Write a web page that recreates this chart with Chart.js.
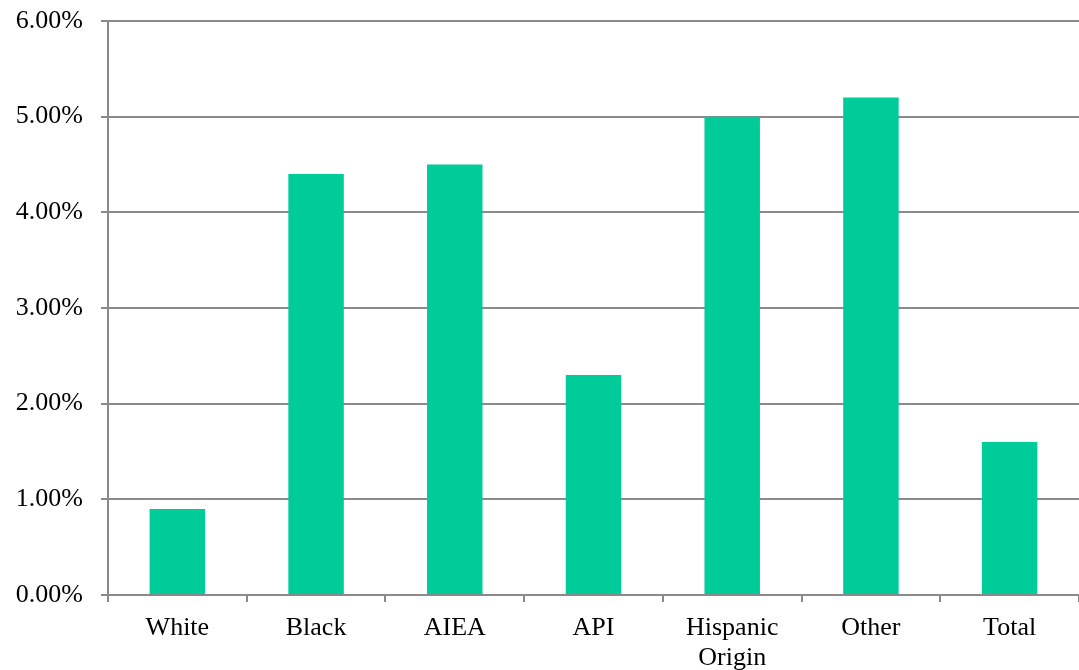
<!DOCTYPE html>
<html lang="en">
<head>
  <meta charset="UTF-8">
  <title>Rate by group</title>
  <script src="https://cdn.jsdelivr.net/npm/chart.js"></script>
  <style>
    body { margin: 0; background: #fff; }
    .wrap { width: 1079px; height: 670px; position: relative; }
  </style>
</head>
<body>
  <div class="wrap"><canvas id="chart"></canvas></div>
  <script>
    const categories = ['White', 'Black', 'AIEA', 'API', ['Hispanic', 'Origin'], 'Other', 'Total'];
    const rates = [0.9, 4.4, 4.5, 2.3, 5.0, 5.2, 1.6];
    const yTicks = [0, 1, 2, 3, 4, 5, 6];

    const gray = '#8a8a8a';
    const font = { family: "'Liberation Serif', 'Times New Roman', serif", size: 26 };

    new Chart(document.getElementById('chart'), {
      type: 'bar',
      data: {
        labels: categories,
        datasets: [{
          data: rates,
          backgroundColor: '#00cc99',
          barPercentage: 0.4,
          categoryPercentage: 1.0
        }]
      },
      options: {
        responsive: true,
        maintainAspectRatio: false,
        animation: false,
        layout: { padding: { top: 21, right: 0, left: 0, bottom: 0 } },
        plugins: { legend: { display: false }, tooltip: { enabled: false } },
        scales: {
          x: {
            grid: { offset: true, drawOnChartArea: false, drawTicks: true, tickLength: 7, color: gray, lineWidth: 2 },
            border: { color: gray, width: 2 },
            ticks: { color: '#000', font: { ...font, lineHeight: 1.15 }, padding: 11, maxRotation: 0 },
            afterFit: s => { s.height = 75; s.paddingLeft = 0; s.paddingRight = 0; }
          },
          y: {
            min: 0,
            max: 6,
            afterBuildTicks: s => { s.ticks = yTicks.map(v => ({ value: v })); },
            grid: { color: gray, lineWidth: 2, tickLength: 7 },
            border: { color: gray, width: 2 },
            ticks: { color: '#000', font: font, padding: 18, callback: v => v.toFixed(2) + '%' },
            afterFit: s => { s.width = 108; s.paddingTop = 0; s.paddingBottom = 0; }
          }
        }
      }
    });
  </script>
</body>
</html>
